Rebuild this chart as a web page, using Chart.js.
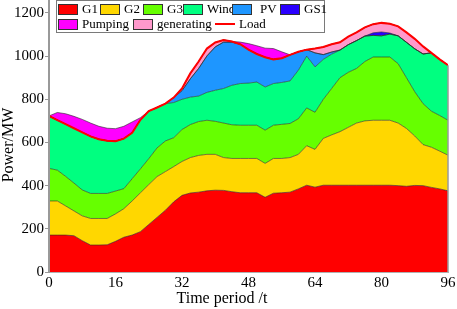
<!DOCTYPE html>
<html>
<head>
<meta charset="utf-8">
<script src="https://cdn.jsdelivr.net/npm/chart.js@4"></script>
<style>
html,body{margin:0;padding:0;background:#fff;}
#wrap{position:relative;width:457px;height:309px;overflow:hidden;}
#legendBox{position:absolute;left:56px;top:0px;width:267px;height:31px;border:1px solid #7a7a7a;background:#fff;}
.item{position:absolute;display:flex;align-items:center;height:14px;white-space:nowrap;font-family:"Liberation Serif","Times New Roman",serif;font-size:13px;color:#000;line-height:14px;}
.sw{width:18px;height:9px;border:1px solid #333;margin-right:4px;flex:none;}
.ln{width:20px;height:2px;background:#FF0000;margin-right:4px;flex:none;}
</style>
</head>
<body>
<div id="wrap">
<canvas id="c" width="457" height="309"></canvas>
<div id="legendBox"></div>
</div>
<script>
// ---- data ----
const timeLabels = [0,2,4,6,8,10,12,14,16,18,20,22,24,26,28,30,32,34,36,38,40,42,44,46,48,50,52,54,56,58,60,62,64,66,68,70,72,74,76,78,80,82,84,86,88,90,92,94,96];
const xTicks = [0,16,32,48,64,80,96];
const yTicks = [0,200,400,600,800,1000,1200];

const G1 = [171,171,171,168,145,125,125,126,142,161,171,187,220,253,286,325,355,366,370,376,379,378,372,367,367,367,346,365,367,370,385,402,393,402,402,402,402,402,402,402,402,402,400,397,401,400,392,385,376];
const G2 = [158,158,135,115,115,123,123,122,127,132,158,180,185,189,179,163,157,164,170,169,166,152,154,159,159,159,157,161,159,160,160,183,175,217,233,248,268,288,298,301,301,301,290,268,229,190,186,175,165];
const G3 = [151,143,137,129,120,116,116,116,106,93,103,111,120,133,142,134,148,153,157,158,153,160,156,154,154,154,154,154,158,158,165,175,172,181,215,250,255,253,275,293,293,293,275,235,205,190,167,165,162];
const Wind = [243,232,242,254,267,264,251,244,231,232,213,227,220,187,173,163,140,127,118,129,144,160,183,193,195,200,200,193,194,197,225,240,210,185,159,128,128,129,118,100,98,106,129,164,199,230,270,260,255];
const PV = [0,0,0,0,0,0,0,0,0,0,0,0,0,0,0,23,40,85,128,169,201,215,200,182,155,130,138,112,112,121,85,30,65,22,10,0,0,0,0,0,0,0,0,0,0,0,0,0,0];
const GS1 = [0,0,0,0,0,0,0,0,0,0,0,0,0,0,0,0,0,0,0,0,0,0,0,0,0,0,0,0,0,0,0,0,0,0,0,0,0,0,0,12,18,5,0,0,0,0,0,0,0];
const Generating = [0,0,0,0,0,0,0,0,0,0,0,0,0,0,0,0,10,25,32,34,20,10,3,0,0,0,0,0,0,0,0,0,20,35,36,36,37,38,40,40,42,43,44,46,46,35,0,0,0];
const Pumping = [0,35,48,55,60,62,60,58,58,57,50,10,0,0,0,0,0,0,0,0,0,0,0,10,28,38,42,50,30,0,0,0,0,0,0,0,0,0,0,0,0,0,0,0,0,0,0,0,0];
const Load = [723,704,685,666,647,628,615,608,606,618,645,705,745,762,780,808,850,920,975,1035,1063,1075,1068,1055,1030,1010,995,985,990,1006,1020,1030,1035,1042,1055,1064,1090,1110,1133,1148,1154,1150,1138,1110,1080,1045,1015,985,958];

const xTitle = 'Time period /t';
const yTitle = 'Power/MW';

// ---- styling ----
const areaDefs = [
  ['G1', G1, '#FF0000'],
  ['G2', G2, '#FFD700'],
  ['G3', G3, '#66FF00'],
  ['Wind', Wind, '#00FF80'],
  ['PV', PV, '#1E96FF'],
  ['GS1', GS1, '#2A00FF'],
  ['generating', Generating, '#FF99CC'],
  ['Pumping', Pumping, '#FF00FF']
];
const FONT = '"Liberation Serif","Times New Roman",serif';

const datasets = areaDefs.map((d, i) => ({
  label: d[0], data: d[1], backgroundColor: d[2],
  borderColor: 'rgba(40,40,40,0.75)', borderWidth: 0.8,
  fill: i === 0 ? 'origin' : '-1', pointRadius: 0, tension: 0,
  stack: 'supply', order: 1
}));
datasets.push({
  label: 'Load', data: Load, borderColor: '#FF0000', backgroundColor: '#FF0000',
  borderWidth: 2, fill: false, pointRadius: 0, tension: 0, stack: 'load', order: 0
});

const edgePlugin = {
  id: 'edge',
  afterDatasetsDraw(chart) {
    const meta = chart.getDatasetMeta(areaDefs.length - 1);
    const pts = meta.data;
    const last = pts[pts.length - 1];
    const a = chart.chartArea;
    const ctx = chart.ctx;
    ctx.save();
    ctx.strokeStyle = '#9a9a9a';
    ctx.lineWidth = 1.5;
    ctx.beginPath();
    ctx.moveTo(a.right, a.bottom);
    ctx.lineTo(a.right, last.y);
    ctx.stroke();
    ctx.restore();
  },
  afterDraw(chart) {
    const ctx = chart.ctx;
    ctx.save();
    ctx.fillStyle = '#000';
    ctx.font = '16px ' + FONT;
    ctx.textAlign = 'center';
    ctx.textBaseline = 'middle';
    ctx.fillText(xTitle, 222, 299);
    ctx.translate(9, 145);
    ctx.rotate(-Math.PI / 2);
    ctx.fillText(yTitle, 0, 0);
    ctx.restore();
  }
};

new Chart(document.getElementById('c'), {
  type: 'line',
  data: { labels: timeLabels, datasets },
  options: {
    responsive: false,
    animation: false,
    layout: { padding: { left: 0, right: 9, top: 0, bottom: 0 } },
    plugins: {
      legend: { display: false },
      tooltip: { enabled: false },
      filler: { drawTime: 'beforeDatasetsDraw' }
    },
    scales: {
      x: {
        type: 'linear', min: 0, max: 96,
        afterBuildTicks: s => { s.ticks = xTicks.map(v => ({ value: v })); },
        afterFit: s => { s.height = 37; s.paddingLeft = 0; s.paddingRight = 0; },
        grid: { display: false, drawTicks: false },
        border: { display: true, color: '#b0b0b0', width: 1, z: 1 },
        ticks: { color: '#000', font: { family: FONT, size: 15 }, padding: 2, maxRotation: 0, autoSkip: false, callback: v => String(v) },
        title: { display: false }
      },
      y: {
        stacked: true, min: 0, max: 1260,
        afterBuildTicks: s => { s.ticks = yTicks.map(v => ({ value: v })); },
        afterFit: s => { s.width = 49; s.paddingTop = 0; s.paddingBottom = 0; },
        grid: { display: true, drawOnChartArea: false, drawTicks: true, tickLength: 4, color: '#999', lineWidth: 1, z: 1 },
        border: { display: true, color: '#999', width: 2, z: 1 },
        ticks: { color: '#000', font: { family: FONT, size: 15 }, padding: 1, autoSkip: false, callback: v => String(v) },
        title: { display: false }
      }
    }
  },
  plugins: [edgePlugin]
});

// ---- legend (HTML text) ----
const legendItems = [
  { label: 'G1', color: '#FF0000', left: 58, top: 2 },
  { label: 'G2', color: '#FFD700', left: 100, top: 2 },
  { label: 'G3', color: '#66FF00', left: 143, top: 2 },
  { label: 'Wind', color: '#00FF80', left: 183, top: 2 },
  { label: 'PV', color: '#1E96FF', left: 232, top: 2, gap: 8 },
  { label: 'GS1', color: '#2A00FF', left: 280, top: 2 },
  { label: 'Pumping', color: '#FF00FF', left: 58, top: 17 },
  { label: 'generating', color: '#FF99CC', left: 133, top: 17 },
  { label: 'Load', line: true, left: 215, top: 17 }
];
const wrap = document.getElementById('wrap');
legendItems.forEach(it => {
  const d = document.createElement('div');
  d.className = 'item';
  d.style.left = it.left + 'px';
  d.style.top = it.top + 'px';
  const s = document.createElement('span');
  if (it.line) { s.className = 'ln'; }
  else { s.className = 'sw'; s.style.background = it.color; }
  if (it.gap) s.style.marginRight = it.gap + 'px';
  const t = document.createElement('span');
  t.textContent = it.label;
  d.appendChild(s); d.appendChild(t);
  wrap.appendChild(d);
});
</script>
</body>
</html>
